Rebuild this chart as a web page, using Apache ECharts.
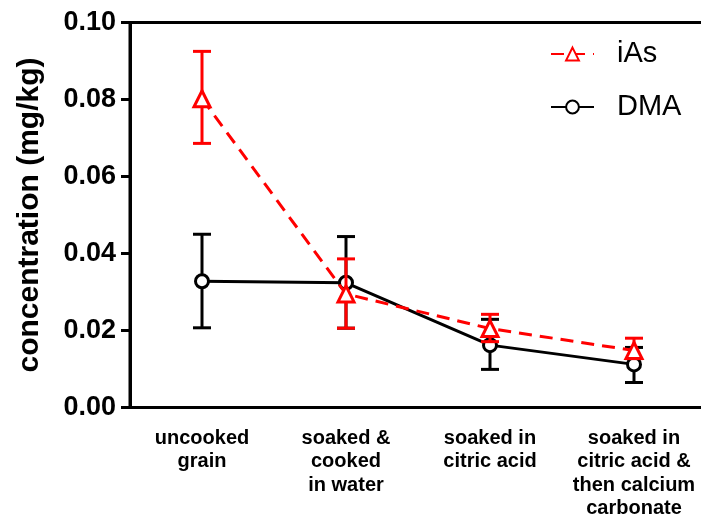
<!DOCTYPE html>
<html>
<head>
<meta charset="utf-8">
<script src="https://cdn.jsdelivr.net/npm/echarts@6/dist/echarts.min.js"></script>
<style>html,body{margin:0;padding:0;background:#fff}#c{width:701px;height:517px}</style>
</head>
<body>
<div id="c"></div>
<script>
var categories = ['uncooked\ngrain', 'soaked &\ncooked\nin water', 'soaked in\ncitric acid', 'soaked in\ncitric acid &\nthen calcium\ncarbonate'];
var iAsMean = [0.0802, 0.0295, 0.0205, 0.0148];
var iAsLow = [0.0686, 0.0206, 0.0171, 0.0127];
var iAsHigh = [0.0925, 0.0386, 0.0242, 0.0180];
var dmaMean = [0.0328, 0.0324, 0.0162, 0.0112];
var dmaLow = [0.0207, 0.0206, 0.0099, 0.0065];
var dmaHigh = [0.0450, 0.0444, 0.0229, 0.0156];
var yTicks = [0, 0.02, 0.04, 0.06, 0.08, 0.10];

function errData(lo, hi) {
  return lo.map(function (v, i) { return [i, v, hi[i]]; });
}
function errRender(color) {
  return function (params, api) {
    var x = api.value(0);
    var p1 = api.coord([x, api.value(1)]);
    var p2 = api.coord([x, api.value(2)]);
    var hw = 9;
    var st = { stroke: color, lineWidth: 3 };
    return {
      type: 'group',
      children: [
        { type: 'line', shape: { x1: p1[0], y1: p1[1], x2: p2[0], y2: p2[1] }, style: st },
        { type: 'line', shape: { x1: p1[0] - hw, y1: p1[1], x2: p1[0] + hw, y2: p1[1] }, style: st },
        { type: 'line', shape: { x1: p2[0] - hw, y1: p2[1], x2: p2[0] + hw, y2: p2[1] }, style: st }
      ]
    };
  };
}

var chart = echarts.init(document.getElementById('c'));
chart.setOption({
  animation: false,
  backgroundColor: '#fff',
  grid: { left: 130, top: 22.5, bottom: 109.5, width: 576, show: true, borderColor: '#000', borderWidth: 3, containLabel: false, outerBoundsMode: 'none' },
  legend: {
    orient: 'vertical', left: 550, top: 39, padding: 0,
    itemWidth: 43, itemHeight: 16, itemGap: 23,
    textStyle: { fontFamily: 'Liberation Sans', fontSize: 29, color: '#000', lineHeight: 30, padding: [0, 0, 0, 18] },
    data: ['iAs', 'DMA']
  },
  xAxis: {
    type: 'category', data: categories,
    axisLine: { lineStyle: { color: '#000', width: 3 } },
    axisTick: { alignWithLabel: true, length: 9, lineStyle: { color: '#000', width: 3 } },
    axisLabel: { margin: 19, fontFamily: 'Liberation Sans', fontWeight: 'bold', fontSize: 20, lineHeight: 23.5, color: '#000', interval: 0, align: 'center' },
    splitLine: { show: false }
  },
  yAxis: {
    type: 'value', min: 0, max: 0.1, interval: 0.02,
    name: 'concentration (mg/kg)', nameLocation: 'middle', nameGap: 85,
    nameTextStyle: { fontFamily: 'Liberation Sans', fontWeight: 'bold', fontSize: 30, color: '#000' },
    axisLine: { show: true, lineStyle: { color: '#000', width: 3 } },
    axisTick: { show: true, length: 9, lineStyle: { color: '#000', width: 3 } },
    axisLabel: { margin: 14, fontFamily: 'Liberation Sans', fontWeight: 'bold', fontSize: 27, color: '#000', formatter: function (v) { return v.toFixed(2); } },
    splitLine: { show: false }
  },
  series: [
    {
      name: 'DMA', type: 'line', data: dmaMean, z: 2,
      symbol: 'circle', symbolSize: 13,
      itemStyle: { color: '#fff', borderColor: '#000', borderWidth: 3 },
      lineStyle: { color: '#000', width: 3 }
    },
    {
      name: 'DMA', type: 'custom', data: errData(dmaLow, dmaHigh), z: 2,
      renderItem: errRender('#000'), encode: { x: 0, y: [1, 2] }
    },
    {
      name: 'iAs', type: 'line', data: iAsMean, z: 4,
      symbol: 'triangle', symbolSize: 16,
      itemStyle: { color: '#fff', borderColor: '#ff0000', borderWidth: 3 },
      lineStyle: { color: '#ff0000', width: 3, type: [13, 8] }
    },
    {
      name: 'iAs', type: 'custom', data: errData(iAsLow, iAsHigh), z: 4,
      renderItem: errRender('#ff0000'), encode: { x: 0, y: [1, 2] }
    }
  ]
});
</script>
</body>
</html>
